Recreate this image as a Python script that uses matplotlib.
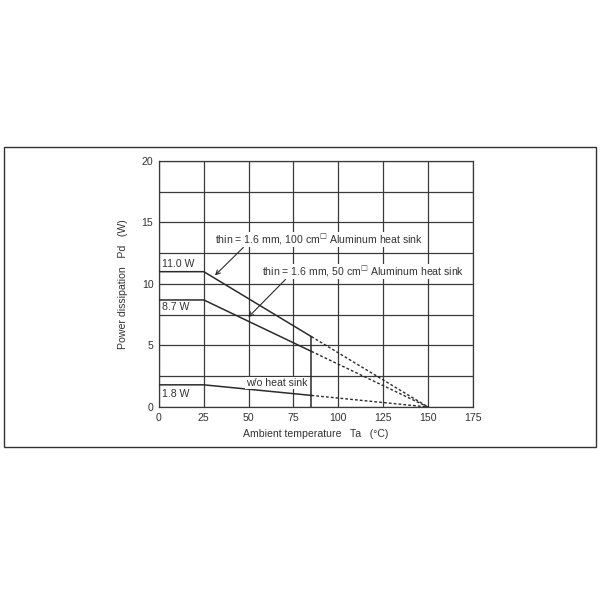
import matplotlib.pyplot as plt
from matplotlib.patches import Rectangle

plt.rcParams['font.family'] = ['Liberation Sans', 'DejaVu Sans']
plt.rcParams['mathtext.fontset'] = 'custom'
plt.rcParams['mathtext.rm'] = 'DejaVu Sans'

# 温度点 (Ta) 与三条降额曲线
ta = [0, 25, 85, 150]
pd_100cm = [11.0, 11.0, 5.72, 0.0]
pd_50cm = [8.7, 8.7, 4.52, 0.0]
pd_no_sink = [1.8, 1.8, 0.94, 0.0]

x_ticks = [0, 25, 50, 75, 100, 125, 150, 175]
y_ticks = [0, 5, 10, 15, 20]
y_minor = [2.5, 7.5, 12.5, 17.5]

label_100 = "thin = 1.6 mm, 100 cm$^{\\mathrm{\u25a1}}$ Aluminum heat sink"
label_50 = "thin = 1.6 mm, 50 cm$^{\\mathrm{\u25a1}}$ Aluminum heat sink"

fig = plt.figure(figsize=(6, 6), dpi=100)
ax = fig.add_axes([0.265, 0.3217, 0.523, 0.41])

line_c = '#2b2b2b'
grid_c = '#3a3a3a'
txt_c = '#333333'
fs = 7.6

# 外框
fig.patches.append(Rectangle((0.007, 0.255), 0.986, 0.5, transform=fig.transFigure,
                             fill=False, edgecolor='#333333', lw=1.0))

ax.set_xlim(0, 175)
ax.set_ylim(0, 20)
ax.set_xticks(x_ticks)
ax.set_yticks(y_ticks)
ax.set_yticks(y_minor, minor=True)
ax.tick_params(axis='both', which='both', length=0, labelsize=fs, colors=txt_c, pad=4)
ax.grid(True, which='both', color=grid_c, lw=0.9)
ax.set_axisbelow(True)
for s in ax.spines.values():
    s.set_color(grid_c)
    s.set_linewidth(0.9)

for pd_vals in (pd_100cm, pd_50cm, pd_no_sink):
    ax.plot(ta[:3], pd_vals[:3], color=line_c, lw=1.1, zorder=3)
    ax.plot(ta[2:], pd_vals[2:], color=line_c, lw=1.0, ls=(0, (2, 1.5)), zorder=3)

# 85°C 竖线
ax.plot([ta[2], ta[2]], [0, pd_100cm[2]], color=line_c, lw=1.1, zorder=3)

bbox = dict(facecolor='white', edgecolor='none', pad=0.5)
ax.text(1.5, 11.2, "11.0 W", fontsize=fs, color=txt_c, ha='left', va='bottom', zorder=4)
ax.text(1.5, 7.75, "8.7 W", fontsize=fs, color=txt_c, ha='left', va='bottom', zorder=4)
ax.text(1.5, 1.5, "1.8 W", fontsize=fs, color=txt_c, ha='left', va='top', zorder=4)
ax.text(48.5, 1.95, "w/o heat sink", fontsize=fs, color=txt_c, ha='left', va='center', bbox=bbox, zorder=4)

ax.annotate(label_100, xy=(31.2, 10.7), xytext=(31.2, 13.6), fontsize=fs, color=txt_c,
            ha='left', va='center', bbox=bbox, zorder=4,
            arrowprops=dict(arrowstyle='->', color=line_c, lw=0.8, shrinkA=0, shrinkB=0,
                            relpos=(0.14, 0.0)))
ax.annotate(label_50, xy=(49.8, 7.3), xytext=(57.4, 11.0), fontsize=fs, color=txt_c,
            ha='left', va='center', bbox=bbox, zorder=4,
            arrowprops=dict(arrowstyle='->', color=line_c, lw=0.8, shrinkA=0, shrinkB=0,
                            relpos=(0.12, 0.0)))

ax.set_xlabel("Ambient temperature   Ta   (°C)", fontsize=fs, color=txt_c, labelpad=5)
ax.set_ylabel("Power dissipation   Pd   (W)", fontsize=fs, color=txt_c, labelpad=10)

fig.savefig("out.png", dpi=100, facecolor='white')
